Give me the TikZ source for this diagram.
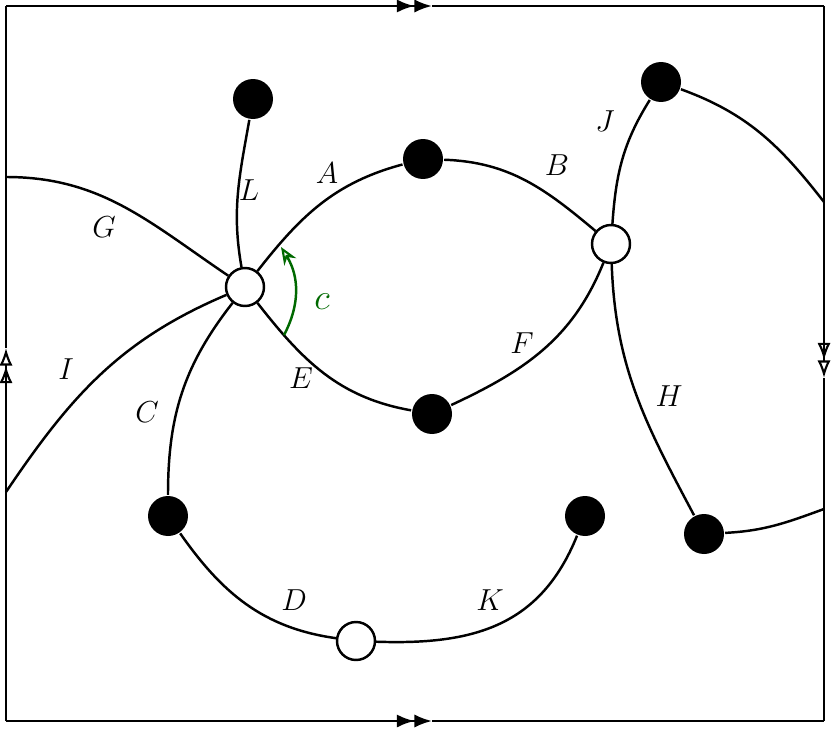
\documentclass[tikz,border=0pt]{standalone}
\usetikzlibrary{arrows.meta}

\definecolor{arcgreen}{RGB}{0,105,0}

\tikzset{
  vwhite/.style={circle, draw, fill=white, line width=1.4pt, minimum size=0.76cm, inner sep=0pt},
  vblack/.style={circle, fill=black, minimum size=0.8cm, inner sep=0pt},
  lbl/.style={font=\LARGE},
  fulltips/.style={-{Latex[length=10pt,width=7.5pt] Latex[length=10pt,width=7.5pt]}},
  opentips/.style={-{Latex[open,length=10pt,width=7.5pt,line width=1.2pt] Latex[open,length=10pt,width=7.5pt,line width=1.2pt]}},
}

\begin{document}
\begin{tikzpicture}[x=0.02cm, y=0.02cm, line width=1.4pt]
\useasboundingbox (0,0) rectangle (831,728);

% frame
\coordinate (sw) at (6,7);
\coordinate (se) at (824,7);
\coordinate (nw) at (6,722);
\coordinate (ne) at (824,722);
\coordinate (mt) at (432,722);
\coordinate (mb) at (432,7);
\coordinate (ml) at (6,380);
\coordinate (mr) at (824,350);
\draw[fulltips] (nw) -- (mt);
\draw (mt) -- (ne);
\draw[fulltips] (sw) -- (mb);
\draw (mb) -- (se);
\draw[opentips] (sw) -- (ml);
\draw (ml) -- (nw);
\draw[opentips] (ne) -- (mr);
\draw (mr) -- (se);

% ends on the frame
\coordinate (gG) at (6,551);
\coordinate (gI) at (6,236);
\coordinate (gJ) at (824,526);
\coordinate (gH) at (824,219);

% vertices
\node (w1) [vwhite, at={(245,441)}] {};
\node (w2) [vwhite, at={(611,484)}] {};
\node (w3) [vwhite, at={(356,87)}] {};
\node (bL) [vblack, at={(253,629)}] {};
\node (bA) [vblack, at={(423,569)}] {};
\node (bE) [vblack, at={(432,314)}] {};
\node (bJ) [vblack, at={(661,646)}] {};
\node (bC) [vblack, at={(168,212)}] {};
\node (bK) [vblack, at={(585,212)}] {};
\node (bH) [vblack, at={(704,194)}] {};

% edges
\draw (gG) to[out=0, in=146] (w1);
\draw (gI) to[out=56, in=203] (w1);
\draw (w1) to[out=100, in=-100] (bL);
\draw (w1) to[out=52, in=195] (bA);
\draw (bA) to[out=-2, in=140] (w2);
\draw (w2) to[out=-112, in=25] (bE);
\draw (w1) to[out=-52, in=170] (bE);
\draw (w1) to[out=-128, in=90] (bC);
\draw (bC) to[out=-55, in=172] (w3);
\draw (w3) to[out=-2, in=-112, looseness=1.1] (bK);
\draw (w2) to[out=86, in=-122] (bJ);
\draw (bJ) to[out=-20, in=128] (gJ);
\draw (w2) to[out=-88, in=118] (bH);
\draw (bH) to[out=3, in=200] (gH);

% green arc
\coordinate (c1) at (284,393);
\coordinate (c2) at (281,481);
\draw[arcgreen, -{Stealth[open,length=10pt,width=8pt,line width=1.2pt]}] (c1) to[bend right=30] (c2);
\node (lc) [lbl, font=\huge, text=arcgreen, at={(322,426)}] {$c$};

% labels
\node (lA) [lbl, at={(327,555)}] {$A$};
\node (lB) [lbl, at={(557,563)}] {$B$};
\node (lC) [lbl, at={(147,316)}] {$C$};
\node (lD) [lbl, at={(294,128)}] {$D$};
\node (lE) [lbl, at={(301,350)}] {$E$};
\node (lF) [lbl, at={(522,385)}] {$F$};
\node (lG) [lbl, at={(104,501)}] {$G$};
\node (lH) [lbl, at={(669,332)}] {$H$};
\node (lI) [lbl, at={(66,359)}] {$I$};
\node (lJ) [lbl, at={(605,607)}] {$J$};
\node (lK) [lbl, at={(490,128)}] {$K$};
\node (lL) [lbl, at={(249,538)}] {$L$};
\end{tikzpicture}
\end{document}
